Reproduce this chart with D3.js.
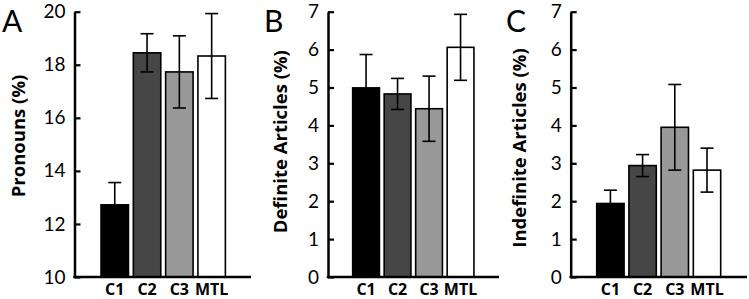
<!DOCTYPE html>
<html>
<head>
<meta charset="utf-8">
<script src="https://cdn.jsdelivr.net/npm/d3@7/dist/d3.min.js"></script>
<style>
  html, body { margin: 0; padding: 0; background: #fff; }
  svg { display: block; }
</style>
</head>
<body>
<div id="chart"></div>
<script>
const categories = ["C1", "C2", "C3", "MTL"];
const barColors = ["#000000", "#464646", "#999999", "#ffffff"];

const pronounMeans = [12.72, 18.45, 17.73, 18.33];
const pronounErrors = [0.84, 0.72, 1.36, 1.6];
const pronounTicks = [10, 12, 14, 16, 18, 20];

const definiteMeans = [4.99, 4.83, 4.44, 6.06];
const definiteErrors = [0.88, 0.41, 0.86, 0.87];

const indefiniteMeans = [1.94, 2.94, 3.95, 2.82];
const indefiniteErrors = [0.35, 0.29, 1.13, 0.58];

const articleTicks = [0, 1, 2, 3, 4, 5, 6, 7];

const chartWidth = 749;
const chartHeight = 299;
const plotBottom = 277;
const plotTop = 11.7;
const tickFont = "Lato, 'Open Sans', sans-serif";
const labelFont = "'Open Sans', Lato, sans-serif";

const panels = [
  { letter: "A", title: "Pronouns (%)", means: pronounMeans, errors: pronounErrors,
    ticks: pronounTicks, axisX: 74.5, axisEnd: 251, barStart: 98.6, step: 32.3,
    titleX: 18.5, titleY: 136, letterX: 2 },
  { letter: "B", title: "Definite Articles (%)", means: definiteMeans, errors: definiteErrors,
    ticks: articleTicks, axisX: 328, axisEnd: 499, barStart: 350.3, step: 31.5,
    titleX: 280.5, titleY: 141.7, letterX: 264 },
  { letter: "C", title: "Indefinite Articles (%)", means: indefiniteMeans, errors: indefiniteErrors,
    ticks: articleTicks, axisX: 570.7, axisEnd: 747, barStart: 594.3, step: 32.2,
    titleX: 520, titleY: 148, letterX: 506 }
];

const svg = d3.select("#chart")
  .append("svg")
  .attr("width", chartWidth)
  .attr("height", chartHeight);

panels.forEach((panel) => {
  const g = svg.append("g");

  const y = d3.scaleLinear()
    .domain([panel.ticks[0], panel.ticks[panel.ticks.length - 1]])
    .range([plotBottom, plotTop]);

  const x = d3.scaleBand()
    .domain(categories)
    .range([panel.barStart, panel.barStart + panel.step * categories.length])
    .paddingInner(0.15)
    .paddingOuter(0.075);

  // bars
  g.selectAll("rect.bar")
    .data(categories)
    .enter()
    .append("rect")
    .attr("class", "bar")
    .attr("x", (d) => x(d))
    .attr("width", x.bandwidth())
    .attr("y", (d, i) => y(panel.means[i]))
    .attr("height", (d, i) => plotBottom - y(panel.means[i]))
    .attr("fill", (d, i) => barColors[i])
    .attr("stroke", "#000")
    .attr("stroke-width", 1.6);

  // error bars
  const capHalf = 6.5;
  const err = g.selectAll("g.err")
    .data(categories)
    .enter()
    .append("g")
    .attr("class", "err")
    .attr("stroke", "#000")
    .attr("stroke-width", 1.6);

  err.append("line")
    .attr("x1", (d) => x(d) + x.bandwidth() / 2)
    .attr("x2", (d) => x(d) + x.bandwidth() / 2)
    .attr("y1", (d, i) => y(panel.means[i] - panel.errors[i]))
    .attr("y2", (d, i) => y(panel.means[i] + panel.errors[i]));

  err.append("line")
    .attr("x1", (d) => x(d) + x.bandwidth() / 2 - capHalf)
    .attr("x2", (d) => x(d) + x.bandwidth() / 2 + capHalf)
    .attr("y1", (d, i) => y(panel.means[i] + panel.errors[i]))
    .attr("y2", (d, i) => y(panel.means[i] + panel.errors[i]));

  err.append("line")
    .attr("x1", (d) => x(d) + x.bandwidth() / 2 - capHalf)
    .attr("x2", (d) => x(d) + x.bandwidth() / 2 + capHalf)
    .attr("y1", (d, i) => y(panel.means[i] - panel.errors[i]))
    .attr("y2", (d, i) => y(panel.means[i] - panel.errors[i]));

  // y axis, ticks pointing inward
  g.append("g")
    .attr("transform", `translate(${panel.axisX},0)`)
    .call(d3.axisLeft(y)
      .tickValues(panel.ticks)
      .tickFormat(d3.format("d"))
      .tickSize(-6)
      .tickSizeOuter(0)
      .tickPadding(9))
    .call((a) => a.select(".domain").attr("stroke", "#000").attr("stroke-width", 2.5))
    .call((a) => a.selectAll(".tick line").attr("stroke", "#000").attr("stroke-width", 2.2))
    .call((a) => a.selectAll("text")
      .attr("fill", "#000")
      .style("font-family", tickFont)
      .style("font-size", "19px"));

  // x axis line
  g.append("line")
    .attr("x1", panel.axisX - 1.25)
    .attr("x2", panel.axisEnd)
    .attr("y1", plotBottom)
    .attr("y2", plotBottom)
    .attr("stroke", "#000")
    .attr("stroke-width", 2.5);

  // category labels
  g.selectAll("text.cat")
    .data(categories)
    .enter()
    .append("text")
    .attr("class", "cat")
    .attr("x", (d) => x(d) + x.bandwidth() / 2)
    .attr("y", 294.5)
    .attr("text-anchor", "middle")
    .style("font-family", labelFont)
    .style("font-size", "16px")
    .style("font-weight", 700)
    .text((d) => d);

  // y title
  g.append("text")
    .attr("transform", `translate(${panel.titleX},${panel.titleY}) rotate(-90)`)
    .attr("text-anchor", "middle")
    .attr("dy", "0.35em")
    .style("font-family", labelFont)
    .style("font-size", "18.5px")
    .style("font-weight", 700)
    .text(panel.title);

  // panel letter
  g.append("text")
    .attr("x", panel.letterX)
    .attr("y", 32)
    .style("font-family", tickFont)
    .style("font-size", "30px")
    .text(panel.letter);
});
</script>
</body>
</html>
